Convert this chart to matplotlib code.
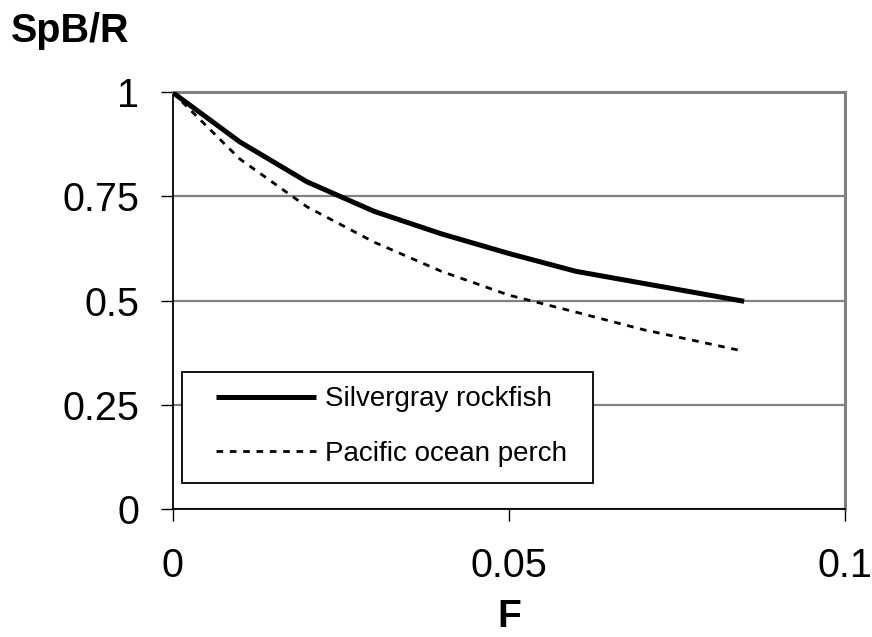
import matplotlib
matplotlib.use("Agg")
import matplotlib.pyplot as plt
from matplotlib.patches import Rectangle

# Data
f_silvergray = [0, 0.01, 0.02, 0.03, 0.04, 0.05, 0.06, 0.085]
spbr_silvergray = [1.0, 0.881, 0.785, 0.714, 0.660, 0.613, 0.570, 0.498]
f_pop = [0, 0.01, 0.02, 0.03, 0.04, 0.05, 0.06, 0.07, 0.085]
spbr_pop = [1.0, 0.840, 0.725, 0.640, 0.570, 0.513, 0.472, 0.430, 0.378]
series_labels = ["Silvergray rockfish", "Pacific ocean perch"]
x_ticks = [0, 0.05, 0.1]
x_tick_labels = ["0", "0.05", "0.1"]
y_ticks = [0, 0.25, 0.5, 0.75, 1]
y_tick_labels = ["0", "0.25", "0.5", "0.75", "1"]

plt.rcParams['font.family'] = ['Liberation Sans', 'DejaVu Sans']

fig = plt.figure(figsize=(8.72, 6.37), dpi=100)
ax = fig.add_axes([172.5/872, 1-508.7/637, (845-172.5)/872, (508.7-92.3)/637])

ax.plot(f_silvergray, spbr_silvergray, color='black', lw=3.6,
        solid_joinstyle='round', solid_capstyle='butt', label=series_labels[0], zorder=3)
ax.plot(f_pop, spbr_pop, color='black', lw=2.0, dashes=(2.4, 2.4),
        label=series_labels[1], zorder=3)

ax.set_xlim(0, 0.1)
ax.set_ylim(0, 1)
ax.set_xticks(x_ticks)
ax.set_xticklabels(x_tick_labels)
ax.set_yticks(y_ticks)
ax.set_yticklabels(y_tick_labels)

ax.grid(axis='y', color='#808080', lw=1.6, zorder=1)
ax.set_axisbelow(True)
for s in ['top', 'right']:
    ax.spines[s].set_color('#808080')
    ax.spines[s].set_linewidth(2.2)
for s in ['left', 'bottom']:
    ax.spines[s].set_color('black')
    ax.spines[s].set_linewidth(1.3)

ax.tick_params(axis='both', direction='out', length=8.6, width=1.0, colors='black',
               labelsize=28.5)
ax.tick_params(axis='y', pad=15.5)
ax.tick_params(axis='x', pad=19)

ax.set_xlabel("F", fontsize=28, fontweight='bold', labelpad=10)
fig.text(11/872, 1-42/637, "SpB/R", fontsize=28.5, fontweight='bold', ha='left', va='baseline')

# legend box frame
ax.add_patch(Rectangle((0.0141, 0.0617), 0.611, 0.2666, transform=ax.transAxes,
                       facecolor='white', edgecolor='black', lw=1.3, zorder=4))
leg = ax.legend(loc='upper left', bbox_to_anchor=(0.0642, 0.2935),
                borderaxespad=0, fontsize=20, frameon=False,
                handlelength=3.6, handletextpad=0.33,
                borderpad=0, labelspacing=1.01)
leg.set_zorder(5)

fig.savefig("out.png", dpi=100)
